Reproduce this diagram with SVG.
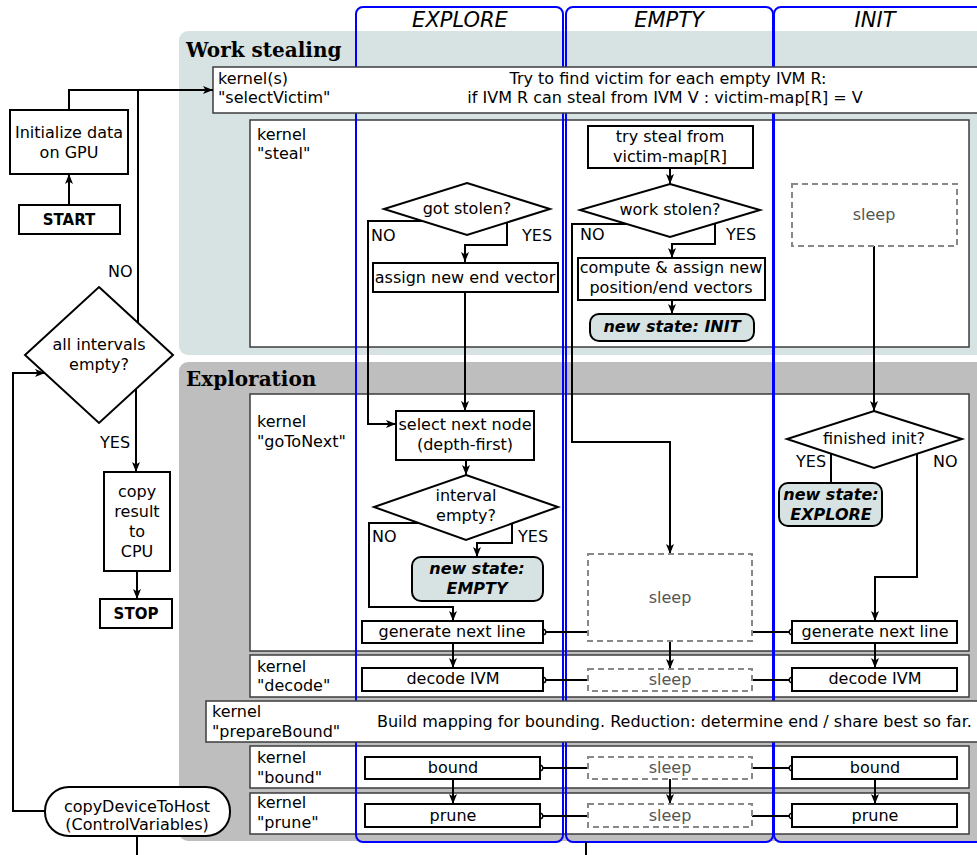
<svg xmlns="http://www.w3.org/2000/svg" width="977" height="855" viewBox="0 0 977 855">
  <style>
    text { font-family: "DejaVu Sans", "Liberation Sans", sans-serif; font-size: 16px; fill: #000; }
    .c { text-anchor: middle; }
    .b { font-weight: bold; font-size: 15px; }
    .st { font-weight: bold; font-style: italic; }
    .hdr { font-style: italic; font-size: 21px; text-anchor: middle; }
    .ttl { font-family: "DejaVu Serif", "Liberation Serif", serif; font-weight: bold; font-size: 20px; }
    .sl { fill: #555; }
    .panel1 { fill: #d7e3e3; }
    .panel2 { fill: #bebebe; }
    .kern { fill: #fff; stroke: #3c3c3c; stroke-width: 1.5; }
    .lane { fill: none; stroke: #0000ff; stroke-width: 2; }
    .box { fill: #fff; stroke: #000; stroke-width: 2; }
    .state { fill: #d7e3e3; stroke: #000; stroke-width: 2; }
    .sleep { fill: #fff; stroke: #888; stroke-width: 2; stroke-dasharray: 6 4; }
    .ln { fill: none; stroke: #000; stroke-width: 2; }
    .ar { marker-end: url(#arr); }
    .dt { marker-end: url(#dot); }
  </style>
  <defs>
    <marker id="arr" viewBox="0 0 10 10" refX="10" refY="5" markerWidth="10" markerHeight="10" markerUnits="userSpaceOnUse" orient="auto">
      <path d="M0,1 L10,5 L0,9 L2.5,5 z" fill="#000"/>
    </marker>
    <marker id="dot" viewBox="0 0 8 8" refX="4" refY="4" markerWidth="8" markerHeight="8" markerUnits="userSpaceOnUse">
      <circle cx="4" cy="4" r="2.8" fill="#fff" stroke="#000" stroke-width="1.4"/>
    </marker>
  </defs>

  <rect width="977" height="855" fill="#fff"/>

  <!-- phase panels -->
  <g id="panel-work-stealing">
    <rect class="panel1" x="179" y="31" width="820" height="324" rx="9"/>
    <text class="ttl" x="186" y="57">Work stealing</text>
  </g>
  <g id="panel-exploration">
    <rect class="panel2" x="179" y="362" width="820" height="479" rx="9"/>
    <text class="ttl" x="186" y="386">Exploration</text>
  </g>

  <!-- kernels spanning the lanes (below lane lines) -->
  <g id="kernel-steal">
    <rect class="kern" x="250" y="120" width="719" height="227"/>
    <text x="257" y="140">kernel</text>
    <text x="257" y="159">"steal"</text>
  </g>
  <g id="kernel-gotonext">
    <rect class="kern" x="250" y="394" width="719" height="257"/>
    <text x="257" y="427">kernel</text>
    <text x="257" y="447">"goToNext"</text>
  </g>
  <g id="kernel-decode">
    <rect class="kern" x="250" y="655" width="719" height="42"/>
    <text x="257" y="672">kernel</text>
    <text x="257" y="691">"decode"</text>
  </g>
  <g id="kernel-bound">
    <rect class="kern" x="250" y="746" width="719" height="42"/>
    <text x="257" y="763">kernel</text>
    <text x="257" y="783">"bound"</text>
  </g>
  <g id="kernel-prune">
    <rect class="kern" x="250" y="793" width="719" height="41"/>
    <text x="257" y="808">kernel</text>
    <text x="257" y="828">"prune"</text>
  </g>

  <!-- state lanes -->
  <g id="lane-explore">
    <rect class="lane" x="356" y="7" width="207" height="835" rx="7"/>
    <text class="hdr" x="460" y="27">EXPLORE</text>
  </g>
  <g id="lane-empty">
    <rect class="lane" x="566" y="7" width="207" height="835" rx="7"/>
    <text class="hdr" x="669" y="27">EMPTY</text>
  </g>
  <g id="lane-init">
    <rect class="lane" x="774" y="7" width="240" height="835" rx="7"/>
    <text class="hdr" x="875" y="27">INIT</text>
  </g>

  <!-- kernels covering all lanes (above lane lines) -->
  <g id="kernel-selectvictim">
    <rect class="kern" x="213" y="67" width="790" height="46"/>
    <text x="218" y="84">kernel(s)</text>
    <text x="218" y="103">"selectVictim"</text>
    <text class="c" x="668" y="84">Try to find victim for each empty IVM R:</text>
    <text class="c" x="665" y="103">if IVM R can steal from IVM V : victim-map[R] = V</text>
  </g>
  <g id="kernel-preparebound">
    <rect class="kern" x="206" y="701" width="797" height="41"/>
    <text x="212" y="717">kernel</text>
    <text x="212" y="737">"prepareBound"</text>
    <text x="377" y="727">Build mapping for bounding. Reduction: determine end / share best so far.</text>
  </g>

  <!-- connectors -->
  <g id="connectors">
    <path class="ln ar" d="M69,205 V174"/>
    <path class="ln ar" d="M69,110 V90 H213"/>
    <path class="ln" d="M138,323 V90"/>
    <path class="ln ar" d="M136,389 V472"/>
    <path class="ln ar" d="M137,571 V599"/>
    <path class="ln ar" d="M45,811 H13 V373 H45"/>
    <path class="ln" d="M137,836 V855"/>
    <path class="ln" d="M586,842 V855"/>

    <path class="ln ar" d="M423,221 H368 V424 H396"/>
    <path class="ln ar" d="M507,222 V245 H465 V262"/>
    <path class="ln ar" d="M465,292 V411"/>
    <path class="ln ar" d="M466,460 V475"/>
    <path class="ln ar" d="M418,523 H369 V607 H453 V621"/>
    <path class="ln ar" d="M512,524 V543 H477 V557"/>
    <path class="ln ar" d="M453,643 V668"/>
    <path class="ln ar" d="M453,779 V804"/>

    <path class="ln ar" d="M670,168 V184"/>
    <path class="ln ar" d="M628,224 H572 V442 H670 V554"/>
    <path class="ln ar" d="M715,223 V244 H672 V258"/>
    <path class="ln ar" d="M672,300 V314"/>
    <path class="ln ar" d="M670,641 V669"/>
    <path class="ln ar" d="M670,779 V804"/>

    <path class="ln ar" d="M874,246 V411"/>
    <path class="ln" d="M831,454 V483"/>
    <path class="ln ar" d="M917,454 V577 H875 V621"/>
    <path class="ln ar" d="M875,643 V668"/>
    <path class="ln ar" d="M875,779 V804"/>

    <path class="ln dt" d="M588,632 H543"/>
    <path class="ln dt" d="M752,632 H792"/>
    <path class="ln dt" d="M588,680 H543"/>
    <path class="ln dt" d="M752,680 H792"/>
    <path class="ln dt" d="M588,768 H540"/>
    <path class="ln dt" d="M752,768 H792"/>
    <path class="ln dt" d="M588,816 H540"/>
    <path class="ln dt" d="M752,816 H792"/>
  </g>

  <!-- host side -->
  <g id="start">
    <rect class="box" x="19" y="205" width="101" height="29"/>
    <text class="c b" x="69" y="225">START</text>
  </g>
  <g id="init-data">
    <rect class="box" x="10" y="110" width="118" height="64"/>
    <text class="c" x="69" y="138">Initialize data</text>
    <text class="c" x="69" y="158">on GPU</text>
  </g>
  <g id="all-empty">
    <polygon class="box" points="99,287 173,355 99,423 25,355"/>
    <text class="c" x="99" y="350">all intervals</text>
    <text class="c" x="99" y="370">empty?</text>
    <text x="108" y="277">NO</text>
    <text x="100" y="448">YES</text>
  </g>
  <g id="copy-result">
    <rect class="box" x="104" y="472" width="66" height="99"/>
    <text class="c" x="137" y="497">copy</text>
    <text class="c" x="137" y="517">result</text>
    <text class="c" x="137" y="537">to</text>
    <text class="c" x="137" y="557">CPU</text>
  </g>
  <g id="stop">
    <rect class="box" x="100" y="599" width="72" height="29"/>
    <text class="c b" x="136" y="619">STOP</text>
  </g>
  <g id="copy-device-to-host">
    <rect class="box" x="45" y="787" width="185" height="49" rx="24"/>
    <text class="c" x="137" y="812">copyDeviceToHost</text>
    <text class="c" x="137" y="830">(ControlVariables)</text>
  </g>

  <!-- EXPLORE lane -->
  <g id="got-stolen">
    <polygon class="box" points="467,183 550,209 467,235 384,209"/>
    <text class="c" x="467" y="214">got stolen?</text>
    <text x="371" y="241">NO</text>
    <text x="522" y="241">YES</text>
  </g>
  <g id="assign-end">
    <rect class="box" x="373" y="263" width="185" height="29"/>
    <text class="c" x="465" y="283">assign new end vector</text>
  </g>
  <g id="select-next">
    <rect class="box" x="396" y="411" width="138" height="49"/>
    <text class="c" x="465" y="430">select next node</text>
    <text class="c" x="465" y="450">(depth-first)</text>
  </g>
  <g id="interval-empty">
    <polygon class="box" points="466,475 558,507 466,540 374,507"/>
    <text class="c" x="466" y="501">interval</text>
    <text class="c" x="466" y="521">empty?</text>
    <text x="372" y="542">NO</text>
    <text x="518" y="542">YES</text>
  </g>
  <g id="state-empty">
    <rect class="state" x="412" y="557" width="131" height="44" rx="9"/>
    <text class="c st" x="477" y="574">new state:</text>
    <text class="c st" x="477" y="594">EMPTY</text>
  </g>
  <g id="explore-generate">
    <rect class="box" x="362" y="621" width="181" height="22"/>
    <text class="c" x="452" y="637">generate next line</text>
  </g>
  <g id="explore-decode">
    <rect class="box" x="362" y="668" width="181" height="23"/>
    <text class="c" x="453" y="684">decode IVM</text>
  </g>
  <g id="explore-bound">
    <rect class="box" x="365" y="757" width="175" height="22"/>
    <text class="c" x="453" y="773">bound</text>
  </g>
  <g id="explore-prune">
    <rect class="box" x="365" y="804" width="175" height="23"/>
    <text class="c" x="453" y="821">prune</text>
  </g>

  <!-- EMPTY lane -->
  <g id="try-steal">
    <rect class="box" x="588" y="126" width="165" height="42"/>
    <text class="c" x="670" y="142">try steal from</text>
    <text class="c" x="670" y="162">victim-map[R]</text>
  </g>
  <g id="work-stolen">
    <polygon class="box" points="670,184 760,210 670,237 580,210"/>
    <text class="c" x="670" y="215">work stolen?</text>
    <text x="580" y="240">NO</text>
    <text x="726" y="240">YES</text>
  </g>
  <g id="compute-assign">
    <rect class="box" x="578" y="258" width="187" height="42"/>
    <text class="c" x="671" y="273">compute &amp; assign new</text>
    <text class="c" x="671" y="293">position/end vectors</text>
  </g>
  <g id="state-init">
    <rect class="state" x="590" y="314" width="164" height="27" rx="9"/>
    <text class="c st" x="672" y="332">new state: INIT</text>
  </g>
  <g id="empty-sleep-next">
    <rect class="sleep" x="588" y="554" width="164" height="87"/>
    <text class="c sl" x="670" y="603">sleep</text>
  </g>
  <g id="empty-sleep-decode">
    <rect class="sleep" x="588" y="669" width="164" height="22"/>
    <text class="c sl" x="670" y="685">sleep</text>
  </g>
  <g id="empty-sleep-bound">
    <rect class="sleep" x="588" y="757" width="164" height="22"/>
    <text class="c sl" x="670" y="773">sleep</text>
  </g>
  <g id="empty-sleep-prune">
    <rect class="sleep" x="588" y="804" width="164" height="23"/>
    <text class="c sl" x="670" y="821">sleep</text>
  </g>

  <!-- INIT lane -->
  <g id="init-sleep-steal">
    <rect class="sleep" x="792" y="184" width="165" height="62"/>
    <text class="c sl" x="874" y="220">sleep</text>
  </g>
  <g id="finished-init">
    <polygon class="box" points="874,411 962,439 874,468 787,439"/>
    <text class="c" x="874" y="444">finished init?</text>
    <text x="796" y="467">YES</text>
    <text x="933" y="467">NO</text>
  </g>
  <g id="state-explore">
    <rect class="state" x="779" y="483" width="103" height="43" rx="9"/>
    <text class="c st" x="831" y="500">new state:</text>
    <text class="c st" x="831" y="520">EXPLORE</text>
  </g>
  <g id="init-generate">
    <rect class="box" x="792" y="621" width="165" height="22"/>
    <text class="c" x="875" y="637">generate next line</text>
  </g>
  <g id="init-decode">
    <rect class="box" x="792" y="668" width="165" height="23"/>
    <text class="c" x="875" y="684">decode IVM</text>
  </g>
  <g id="init-bound">
    <rect class="box" x="792" y="757" width="165" height="22"/>
    <text class="c" x="875" y="773">bound</text>
  </g>
  <g id="init-prune">
    <rect class="box" x="792" y="804" width="165" height="23"/>
    <text class="c" x="875" y="821">prune</text>
  </g>
</svg>
